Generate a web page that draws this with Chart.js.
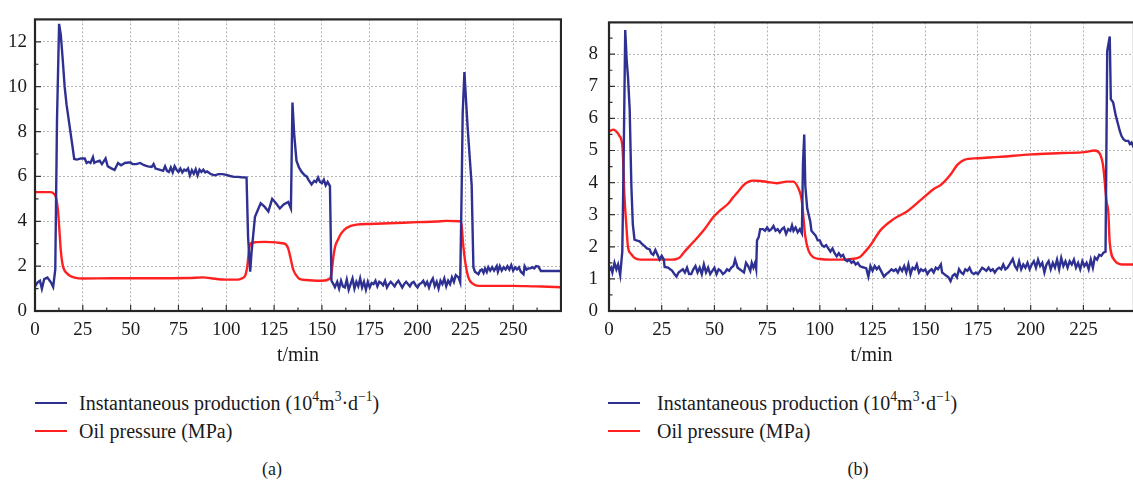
<!DOCTYPE html>
<html>
<head>
<meta charset="utf-8">
<script src="https://cdn.jsdelivr.net/npm/chart.js@4.4.0/dist/chart.umd.min.js"></script>
<style>
  body { margin: 0; width: 1133px; height: 483px; overflow: hidden; background: #fff; font-family: 'Liberation Serif', 'DejaVu Serif', serif; color: #1a1a1a; }
  canvas { position: absolute; top: 0; }
  .legend { position: absolute; top: 389px; font-size: 20px; line-height: 28px; }
  .legend div { position: relative; white-space: nowrap; }
  .legend .sw { position: absolute; left: 0; top: 13px; width: 32px; height: 2px; }
  .legend sup { font-size: 0.68em; line-height: 0; position: relative; top: -0.1em; }
  .cap { position: absolute; top: 459px; font-size: 18px; transform: translateX(-50%); }
</style>
</head>
<body>
<canvas id="chartA" width="562" height="370" style="left:0px;width:562px;height:370px"></canvas>
<canvas id="chartB" width="560" height="370" style="left:574px;width:560px;height:370px"></canvas>

<div class="legend" style="left:35px">
  <div style="padding-left:44px"><span class="sw" style="background:#2e3192"></span>Instantaneous production (10<sup>4</sup>m<sup>3</sup>·d<sup>−1</sup>)</div>
  <div style="padding-left:44px"><span class="sw" style="background:#ff2020"></span>Oil pressure (MPa)</div>
</div>
<div class="legend" style="left:608px">
  <div style="padding-left:49px"><span class="sw" style="background:#2e3192"></span>Instantaneous production (10<sup>4</sup>m<sup>3</sup>·d<sup>−1</sup>)</div>
  <div style="padding-left:49px"><span class="sw" style="background:#ff2020"></span>Oil pressure (MPa)</div>
</div>
<div class="cap" style="left:272px">(a)</div>
<div class="cap" style="left:858px">(b)</div>

<script>
// ---- data ----
// (a) instantaneous production
const timeA_prod = [0, 1.4, 2.6, 3.6, 4.8, 6.5, 8.3, 9.5, 10.6, 11.5, 12.6, 13.5, 14.5, 15.5, 16.5, 17.5, 18.5, 19.5, 20.5,
  22, 24, 26, 27, 28, 29, 30.3, 31, 32, 33.8, 35, 36.9, 38, 39.9, 41.6, 43.4, 45, 47, 49, 50, 51, 53, 55, 57, 59, 61, 62, 63, 65,
  67, 68, 69, 70, 71, 72, 73, 74, 75, 76, 77, 78, 79, 80, 81, 82, 83, 84, 85, 86, 87, 88, 89, 90, 92, 94, 96, 98, 100, 102, 104,
  106, 108, 110.6, 111.4, 112.5, 113.2, 115, 116, 118, 120, 122, 124, 126, 128, 130, 132.4, 133.8, 134.6, 135.5, 136.7, 138,
  139.4, 141, 142, 143, 144.6, 146, 147, 148, 149, 150, 151, 152, 153, 154.2, 155, 156, 156.8, 158, 159, 160, 161, 162, 163, 164,
  165, 166, 167, 168, 169, 170, 171, 172, 173, 174, 175, 176, 177, 178, 179, 180, 181, 182, 183, 184, 185, 186, 187, 188, 189,
  190, 191, 192, 193, 194, 195, 196, 197, 198, 199, 200, 201, 202, 203, 204, 205, 206, 207, 208, 209, 210, 211, 212, 213, 214,
  215, 216, 217, 218, 219, 220, 221.4, 222.3, 223.1, 223.6, 224.5, 226.1, 228.3, 229.2, 230, 231.8, 232.7, 233.6, 234.5, 235.3,
  236.2, 237, 238, 239, 240, 241.4, 242, 243, 244, 245, 246, 247, 248, 249, 250, 251, 252, 253, 254, 255.4, 256, 257, 258, 259,
  260, 261, 262, 263.2, 264.5, 265.8, 270, 275];
const prodA = [1.1, 1.28, 1.35, 0.99, 1.42, 1.49, 1.28, 1.07, 1.85, 8.5, 12.8, 12.3, 11.2, 10.0, 9.2, 8.6, 8.0, 7.4, 6.78,
  6.75, 6.8, 6.8, 6.6, 6.65, 6.6, 6.86, 6.6, 6.65, 6.7, 6.55, 6.8, 6.45, 6.36, 6.29, 6.6, 6.5, 6.6, 6.62, 6.62, 6.55, 6.55, 6.6, 6.5, 6.45, 6.42, 6.55, 6.35, 6.3,
  6.25, 6.45, 6.25, 6.2, 6.4, 6.18, 6.45, 6.3, 6.2, 6.35, 6.18, 6.3, 6.25, 6.35, 6.05, 6.28, 6.12, 6.32, 6.05, 6.3, 6.2, 6.3, 6.18, 6.22, 6.1, 6.05, 6.1, 6.1, 6.07, 6.02, 5.98,
  5.98, 5.96, 5.95, 3.3, 1.75, 2.6, 4.2, 4.4, 4.8, 4.65, 4.44, 5.0, 4.8, 4.57, 4.75, 4.86, 4.57, 9.29, 7.9, 6.7, 6.4,
  6.2, 6.05, 6.0, 5.85, 5.64, 5.8, 5.75, 5.95, 5.75, 5.7, 5.85, 5.6, 5.75, 5.57, 1.35, 1.2, 1.06, 1.3, 1.0, 1.35, 1.1, 1.05, 1.4, 0.95,
  1.2, 1.45, 1.0, 1.3, 1.1, 1.45, 1.05, 1.3, 0.95, 1.3, 1.05, 1.25, 1.2, 1.35, 1.1, 1.3, 1.25, 1.15, 1.35, 1.05, 1.2, 1.3, 1.2, 1.1, 1.25,
  1.35, 1.2, 1.05, 1.2, 1.3, 1.2, 1.1, 1.25, 1.3, 1.15, 1.05, 1.2, 1.25, 1.35, 1.15, 1.3, 1.05, 1.3, 1.45, 1.1, 1.3, 1.0, 1.35, 1.2, 1.45,
  1.1, 1.35, 1.2, 1.5, 1.3, 1.6, 1.5, 1.28, 5.6, 8.8, 10.65, 8.3, 5.6, 1.95, 1.75, 1.64, 1.8, 1.85, 1.7, 1.9,
  1.74, 1.95, 1.8, 1.95, 1.8, 2.0, 1.75, 2.0, 1.8, 1.95, 1.85, 2.0, 1.85, 2.05, 1.8, 1.95, 1.85, 1.95, 1.75, 1.64, 2.0, 1.85, 1.9, 1.9,
  1.95, 1.9, 2.0, 1.98, 1.78, 1.78, 1.78, 1.78];
// (a) oil pressure
const timeA_pres = [0, 5, 8, 10, 11, 12, 13, 13.4, 14, 14.6, 15.5, 16.3, 18, 20.7, 25, 40, 60, 80, 88, 92, 100, 106, 108, 110,
  111, 112.3, 113.5, 116, 120, 126, 129, 130.6, 132.4, 133.5, 135, 136.5, 138.5, 142, 150, 154.2, 155, 156, 157, 158.5, 160, 163,
  168, 175, 185, 200, 210, 215, 222, 223, 223.8, 224.9, 226.6, 229, 232, 240, 250, 260, 265, 275];
const presA = [5.3, 5.3, 5.3, 5.22, 5.05, 4.5, 3.3, 2.78, 2.3, 2.0, 1.8, 1.71, 1.58, 1.49, 1.45, 1.46, 1.46, 1.47, 1.5, 1.46, 1.4, 1.4, 1.45, 1.6,
  2.0, 2.95, 3.05, 3.07, 3.08, 3.06, 3.02, 3.0, 2.78, 2.4, 1.85, 1.6, 1.42, 1.38, 1.35, 1.45, 1.7, 2.42, 2.9, 3.2, 3.45, 3.71,
  3.85, 3.88, 3.91, 3.96, 3.99, 4.02, 4.0, 3.85, 3.0, 2.2, 1.49, 1.21, 1.12, 1.12, 1.12, 1.1, 1.09, 1.06];

// (b) instantaneous production
const timeB_prod = [0, 1, 1.6, 2.6, 3.5, 4.3, 5.3, 6.3, 6.9, 7.7, 8.4, 9.0, 9.8, 10.6, 11.3, 12.1, 13, 14.5, 15.5, 16.9, 18, 19.3,
  20, 21, 22, 23, 24, 25, 26, 26.4, 28, 29, 30, 31, 32, 33, 34, 35, 36, 37, 38, 39, 40, 41, 42, 43, 44, 45, 46, 47, 48, 49, 50,
  51, 52, 53, 54, 55, 56, 57, 58, 59, 59.8, 61, 62, 63, 64, 65, 66, 67, 67.7, 68.5, 69.3, 69.8, 70.2, 71, 71.7, 73, 74, 75, 76,
  77, 78, 79, 80, 81, 82, 83, 84, 85, 86, 86.8, 87.5, 88.5, 89.5, 90.5, 91.5, 92, 92.6, 93.1, 94, 95.5, 96, 97, 98, 99, 100,
  101, 102, 103, 104, 105, 106, 107, 108, 109, 110, 111, 112, 113, 114, 115, 116, 117, 118, 119, 120, 121, 122, 123, 124, 125,
  126, 127, 128, 129, 130.4, 131.5, 132.5, 134, 135, 136, 137, 138, 139, 140, 141, 142, 143, 144, 145, 146, 147, 148, 149, 150,
  151, 152, 153, 154, 155, 156, 157.4, 158, 159, 160, 161, 162, 163, 164, 165, 166, 167, 168, 169, 170, 171, 172, 173, 174, 175,
  176, 177, 178, 179, 180, 181, 182, 183, 184, 185, 186, 187, 188, 189, 190, 191.5, 192.5, 193.5, 194.5, 195.5, 196.5, 197.5,
  198.5, 199.5, 200.5, 201.5, 202.5, 203.5, 204.5, 205.5, 206.5, 207.5, 208.5, 209.5, 210.5, 211.5, 212.5, 213.5, 214.5, 215.5,
  216.5, 217.5, 218.5, 219.5, 220.5, 221.5, 222.5, 223.5, 224.5, 225.5, 226.5, 227.5, 228.5, 229.5, 230.4, 231.5, 232.5, 233.5,
  234.5, 235.5, 236.3, 237.5, 238, 239.1, 240.3, 241.5, 242.3, 243.1, 244, 245, 246.3, 247, 247.8, 248.5, 249];
const prodB = [1.25, 1.35, 1.2, 1.5, 1.3, 1.45, 1.12, 1.85, 4.5, 8.75, 7.8, 7.3, 6.3, 3.9, 2.7, 2.22, 2.2, 2.17, 2.1, 2.02, 1.95, 1.92,
  1.8, 1.75, 1.9, 1.75, 1.6, 1.72, 1.6, 1.37, 1.35, 1.3, 1.25, 1.15, 1.07, 1.2, 1.25, 1.3, 1.2, 1.35, 1.15, 1.15, 1.3, 1.4, 1.2, 1.35, 1.15, 1.45, 1.2, 1.35, 1.15, 1.25, 1.35,
  1.15, 1.3, 1.25, 1.15, 1.2, 1.3, 1.25, 1.35, 1.4, 1.6, 1.35, 1.3, 1.25, 1.2, 1.5, 1.4, 1.25, 1.5, 1.35, 1.5, 1.32, 2.2, 2.3, 2.55, 2.55, 2.5, 2.6, 2.5,
  2.55, 2.65, 2.5, 2.55, 2.45, 2.55, 2.6, 2.4, 2.55, 2.5, 2.67, 2.5, 2.6, 2.45, 2.55, 2.42, 4.6, 5.5, 3.9, 3.2, 2.77, 2.5, 2.42, 2.35, 2.2, 2.2,
  2.05, 2.0, 2.05, 1.95, 1.85, 1.95, 1.8, 1.7, 1.8, 1.7, 1.75, 1.6, 1.55, 1.6, 1.5, 1.55, 1.45, 1.5, 1.4, 1.37, 1.35, 1.33, 1.07, 1.4, 1.25,
  1.4, 1.3, 1.38, 1.25, 1.07, 1.15, 1.2, 1.3, 1.25, 1.3, 1.2, 1.35, 1.25, 1.4, 1.2, 1.45, 1.15, 1.35, 1.3, 1.45, 1.2, 1.3, 1.25, 1.3,
  1.15, 1.25, 1.3, 1.2, 1.35, 1.3, 1.45, 1.2, 1.15, 1.1, 1.05, 0.93, 1.1, 1.15, 1.05, 1.3, 1.2, 1.15, 1.3, 1.25, 1.35, 1.2, 1.15, 1.2, 1.15,
  1.25, 1.35, 1.3, 1.25, 1.35, 1.25, 1.3, 1.2, 1.3, 1.35, 1.3, 1.45, 1.3, 1.35, 1.45, 1.62, 1.4, 1.3, 1.55, 1.3, 1.45, 1.35,
  1.5, 1.3, 1.45, 1.55, 1.35, 1.6, 1.4, 1.5, 1.2, 1.45, 1.55, 1.3, 1.5, 1.35, 1.6, 1.3, 1.65, 1.4,
  1.55, 1.35, 1.55, 1.45, 1.6, 1.35, 1.5, 1.3, 1.55, 1.4, 1.5, 1.3, 1.6, 1.35, 1.67, 1.6, 1.75, 1.72,
  1.82, 1.85, 8.1, 8.55, 6.6, 6.5, 6.1, 5.8, 5.6, 5.45, 5.35, 5.3, 5.3, 5.2, 5.25, 5.15, 5.2];
// (b) oil pressure
const timeB_pres = [0, 1, 2, 3, 4, 5, 5.8, 6.5, 7.3, 8.2, 9, 10.6, 12, 13, 15, 20, 25, 30, 32, 33.6, 35, 36.8, 40, 45, 49.4, 53,
  56.6, 59, 61, 63.7, 66, 68.5, 72, 75, 79.6, 84.4, 87.5, 89.9, 91, 91.5, 93.1, 94.7, 97, 100, 105, 110, 115, 119, 121.5, 124,
  128.8, 135.1, 141.5, 147.9, 154.2, 157.4, 162.1, 165.3, 168.5, 174.9, 185, 200.2, 215, 225.6, 230.4, 232.8, 234.4, 236, 236.8,
  237.5, 239.9, 241.5, 243.1, 249];
const presB = [5.6, 5.63, 5.65, 5.62, 5.55, 5.45, 5.35, 5.0, 3.6, 2.7, 2.0, 1.77, 1.66, 1.62, 1.6, 1.6, 1.6, 1.6, 1.62, 1.67, 1.78, 1.92, 2.15, 2.52, 2.92, 3.15,
  3.35, 3.55, 3.7, 3.91, 4.02, 4.06, 4.05, 4.02, 3.98, 4.03, 4.03, 3.81, 3.6, 3.41, 2.32, 1.87, 1.67, 1.62, 1.6, 1.6, 1.62, 1.68, 1.85, 2.05,
  2.52, 2.87, 3.11, 3.46, 3.81, 3.93, 4.26, 4.56, 4.71, 4.76, 4.8, 4.88, 4.92, 4.95, 5.0, 4.9, 4.5, 3.4, 3.1,
  2.12, 1.57, 1.48, 1.45, 1.45];

const BLUE = '#2e3192';
const RED = '#ff2020';
const SERIF = "'Liberation Serif', 'DejaVu Serif', serif";
const tickFont = { family: SERIF, size: 19 };

function toPoints(ts, vs) {
  return ts.map((t, i) => ({ x: t, y: vs[i] }));
}

// box frame + inward major/minor ticks
const framePlugin = {
  id: 'frame',
  afterDraw(chart) {
    const { ctx, chartArea: a, scales: { x, y } } = chart;
    ctx.save();
    ctx.strokeStyle = '#333';
    ctx.lineWidth = 1.2;
    ctx.beginPath();
    const xs = x.options.ticks.stepSize, ys = y.options.ticks.stepSize;
    x.ticks.forEach(t => {
      const p = x.getPixelForValue(t.value);
      ctx.moveTo(p, a.bottom); ctx.lineTo(p, a.bottom - 6);
      const m = x.getPixelForValue(t.value + xs / 2);
      if (m < a.right) { ctx.moveTo(m, a.bottom); ctx.lineTo(m, a.bottom - 3.5); }
    });
    y.ticks.forEach(t => {
      const p = y.getPixelForValue(t.value);
      ctx.moveTo(a.left, p); ctx.lineTo(a.left + 6, p);
      const m = y.getPixelForValue(t.value + ys / 2);
      if (m > a.top) { ctx.moveTo(a.left, m); ctx.lineTo(a.left + 3.5, m); }
    });
    ctx.stroke();
    ctx.lineWidth = 2.2;
    ctx.strokeStyle = '#262626';
    ctx.strokeRect(a.left, a.top, a.right - a.left, a.bottom - a.top);
    ctx.restore();
  }
};

function build(id, prodT, prodV, presT, presV, xMax, xLabelMax, yMax, yStep, yPad, rightPad) {
  return new Chart(document.getElementById(id), {
    type: 'line',
    data: {
      datasets: [
        { label: 'Instantaneous production', data: toPoints(prodT, prodV), borderColor: BLUE, borderWidth: 2.4,
          pointRadius: 0, tension: 0 },
        { label: 'Oil pressure', data: toPoints(presT, presV), borderColor: RED, borderWidth: 2.4,
          pointRadius: 0, cubicInterpolationMode: 'monotone' }
      ]
    },
    options: {
      responsive: false,
      animation: false,
      layout: { padding: { top: 9, right: rightPad, left: 0, bottom: 0 }, autoPadding: false },
      plugins: { legend: { display: false }, tooltip: { enabled: false } },
      scales: {
        x: {
          type: 'linear', min: 0, max: xMax,
          ticks: { stepSize: 25, padding: 8, maxRotation: 0, font: tickFont, color: '#1a1a1a' },
          grid: { color: '#b4b4b4', lineWidth: 1, drawTicks: false },
          border: { display: false, dash: [2, 2] },
          title: { display: true, text: 't/min', font: { family: SERIF, size: 20 }, color: '#1a1a1a',
                   padding: { top: 0, bottom: 2 } },
          afterBuildTicks(s) { s.ticks = s.ticks.filter(t => t.value <= xLabelMax); },
          afterFit(s) { s.height = 59; }
        },
        y: {
          min: 0, max: yMax,
          ticks: { stepSize: yStep, padding: yPad, includeBounds: false, font: tickFont, color: '#1a1a1a' },
          grid: { color: '#b4b4b4', lineWidth: 1, drawTicks: false },
          border: { display: false, dash: [2, 2] },
          afterFit(s) { s.width = 35; }
        }
      }
    },
    plugins: [framePlugin]
  });
}

build('chartA', timeA_prod, prodA, timeA_pres, presA, 275, 250, 13, 2, 8, 1);
build('chartB', timeB_prod, prodB, timeB_pres, presB, 249, 225, 8.99, 1, 11, 0);
</script>
</body>
</html>
